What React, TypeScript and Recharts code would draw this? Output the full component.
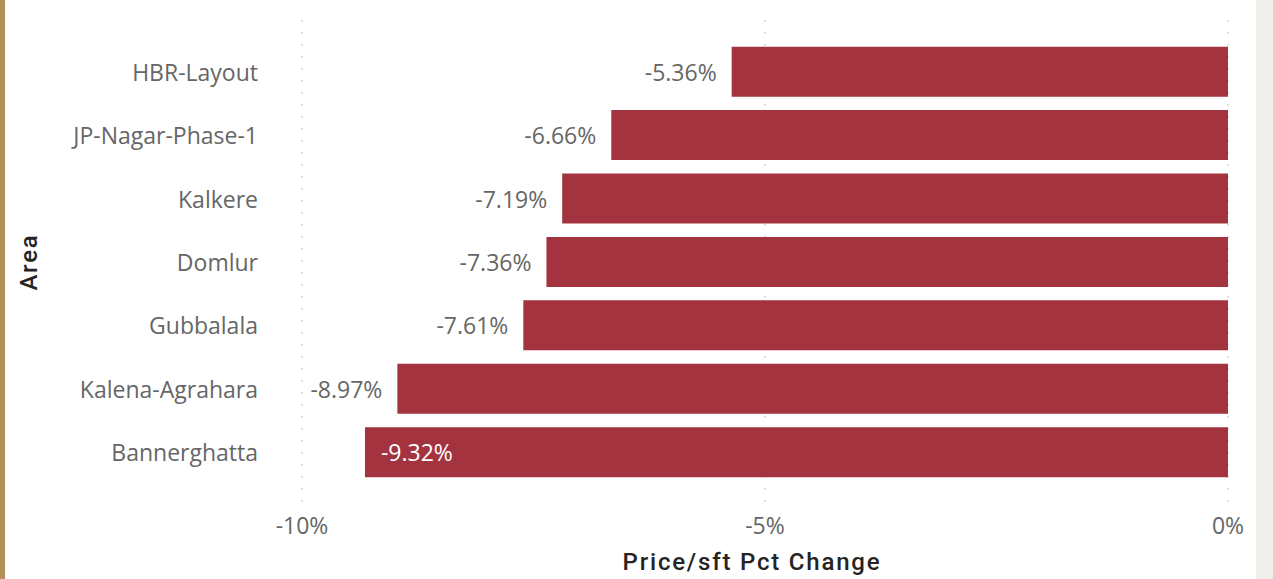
import React from 'react';
import { BarChart, Bar, XAxis, YAxis, CartesianGrid, LabelList, Label } from 'recharts';

const areas = ['HBR-Layout', 'JP-Nagar-Phase-1', 'Kalkere', 'Domlur', 'Gubbalala', 'Kalena-Agrahara', 'Bannerghatta'];
const pctChange = [-5.36, -6.66, -7.19, -7.36, -7.61, -8.97, -9.32];
const xTicks = [-10, -5, 0];

const data = areas.map((area, i) => ({ area, change: pctChange[i] }));

const textFont = '"Open Sans", "Noto Sans", sans-serif';
const titleFont = 'Roboto, "DejaVu Sans", sans-serif';

const ValueLabel = (props: any) => {
  const { x, y, width, height, value } = props;
  const left = Math.min(x, x + width);
  const cy = y + height / 2;
  const text = `${Number(value).toFixed(2)}%`;
  const est = text.length * 12.5;
  const inside = left - 15 - est < 302;
  return (
    <text
      x={inside ? left + 16 : left - 15}
      y={cy}
      textAnchor={inside ? 'start' : 'end'}
      dominantBaseline="central"
      fill={inside ? '#ffffff' : '#666666'}
      fontSize={23}
      fontFamily={textFont}
    >
      {text}
    </text>
  );
};

const CategoryTick = (props: any) => {
  const { x, y, payload } = props;
  return (
    <text x={x - 36} y={y} textAnchor="end" dominantBaseline="central" fill="#666666" fontSize={23} fontFamily={textFont}>
      {payload.value}
    </text>
  );
};

const ValueTick = (props: any) => {
  const { x, y, payload } = props;
  return (
    <text x={x} y={y + 14} textAnchor="middle" dominantBaseline="central" fill="#666666" fontSize={23} fontFamily={textFont}>
      {`${payload.value}%`}
    </text>
  );
};

export default function App() {
  return (
    <div style={{ position: 'absolute', left: 0, top: 0, width: 1273, height: 579, background: '#ffffff', overflow: 'hidden' }}>
      <div style={{ position: 'absolute', left: 0, top: 0, width: 5, height: 579, background: '#B38F5A' }} />
      <div style={{ position: 'absolute', left: 1256, top: 0, width: 17, height: 579, background: '#F0EFEC' }} />
      <BarChart
        layout="vertical"
        width={1256}
        height={579}
        data={data}
        margin={{ top: 20, right: 28, bottom: 0, left: 0 }}
        barCategoryGap="10.5%"
      >
        <CartesianGrid horizontal={false} stroke="#C8C8C8" strokeWidth={1.5} strokeDasharray="1.5 10.5" />
        <XAxis
          type="number"
          domain={[-10, 0]}
          ticks={xTicks}
          axisLine={false}
          tickLine={false}
          height={76}
          tick={<ValueTick />}
        >
          <Label
            content={() => (
              <text x={752} y={562} textAnchor="middle" dominantBaseline="central" fill="#252423" fontSize={24} fontWeight={500} letterSpacing={1.8} fontFamily={titleFont}>
                Price/sft Pct Change
              </text>
            )}
          />
        </XAxis>
        <YAxis
          type="category"
          dataKey="area"
          width={302}
          axisLine={false}
          tickLine={false}
          padding={{ top: 20, bottom: 19 }}
          tick={<CategoryTick />}
        >
          <Label
            content={() => (
              <text
                x={29}
                y={262}
                transform="rotate(-90, 29, 262)"
                textAnchor="middle"
                dominantBaseline="central"
                fill="#252423"
                fontSize={24}
                fontWeight={500}
                letterSpacing={1.8}
                fontFamily={titleFont}
              >
                Area
              </text>
            )}
          />
        </YAxis>
        <Bar dataKey="change" fill="#A3333F" isAnimationActive={false}>
          <LabelList dataKey="change" content={<ValueLabel />} />
        </Bar>
      </BarChart>
    </div>
  );
}
